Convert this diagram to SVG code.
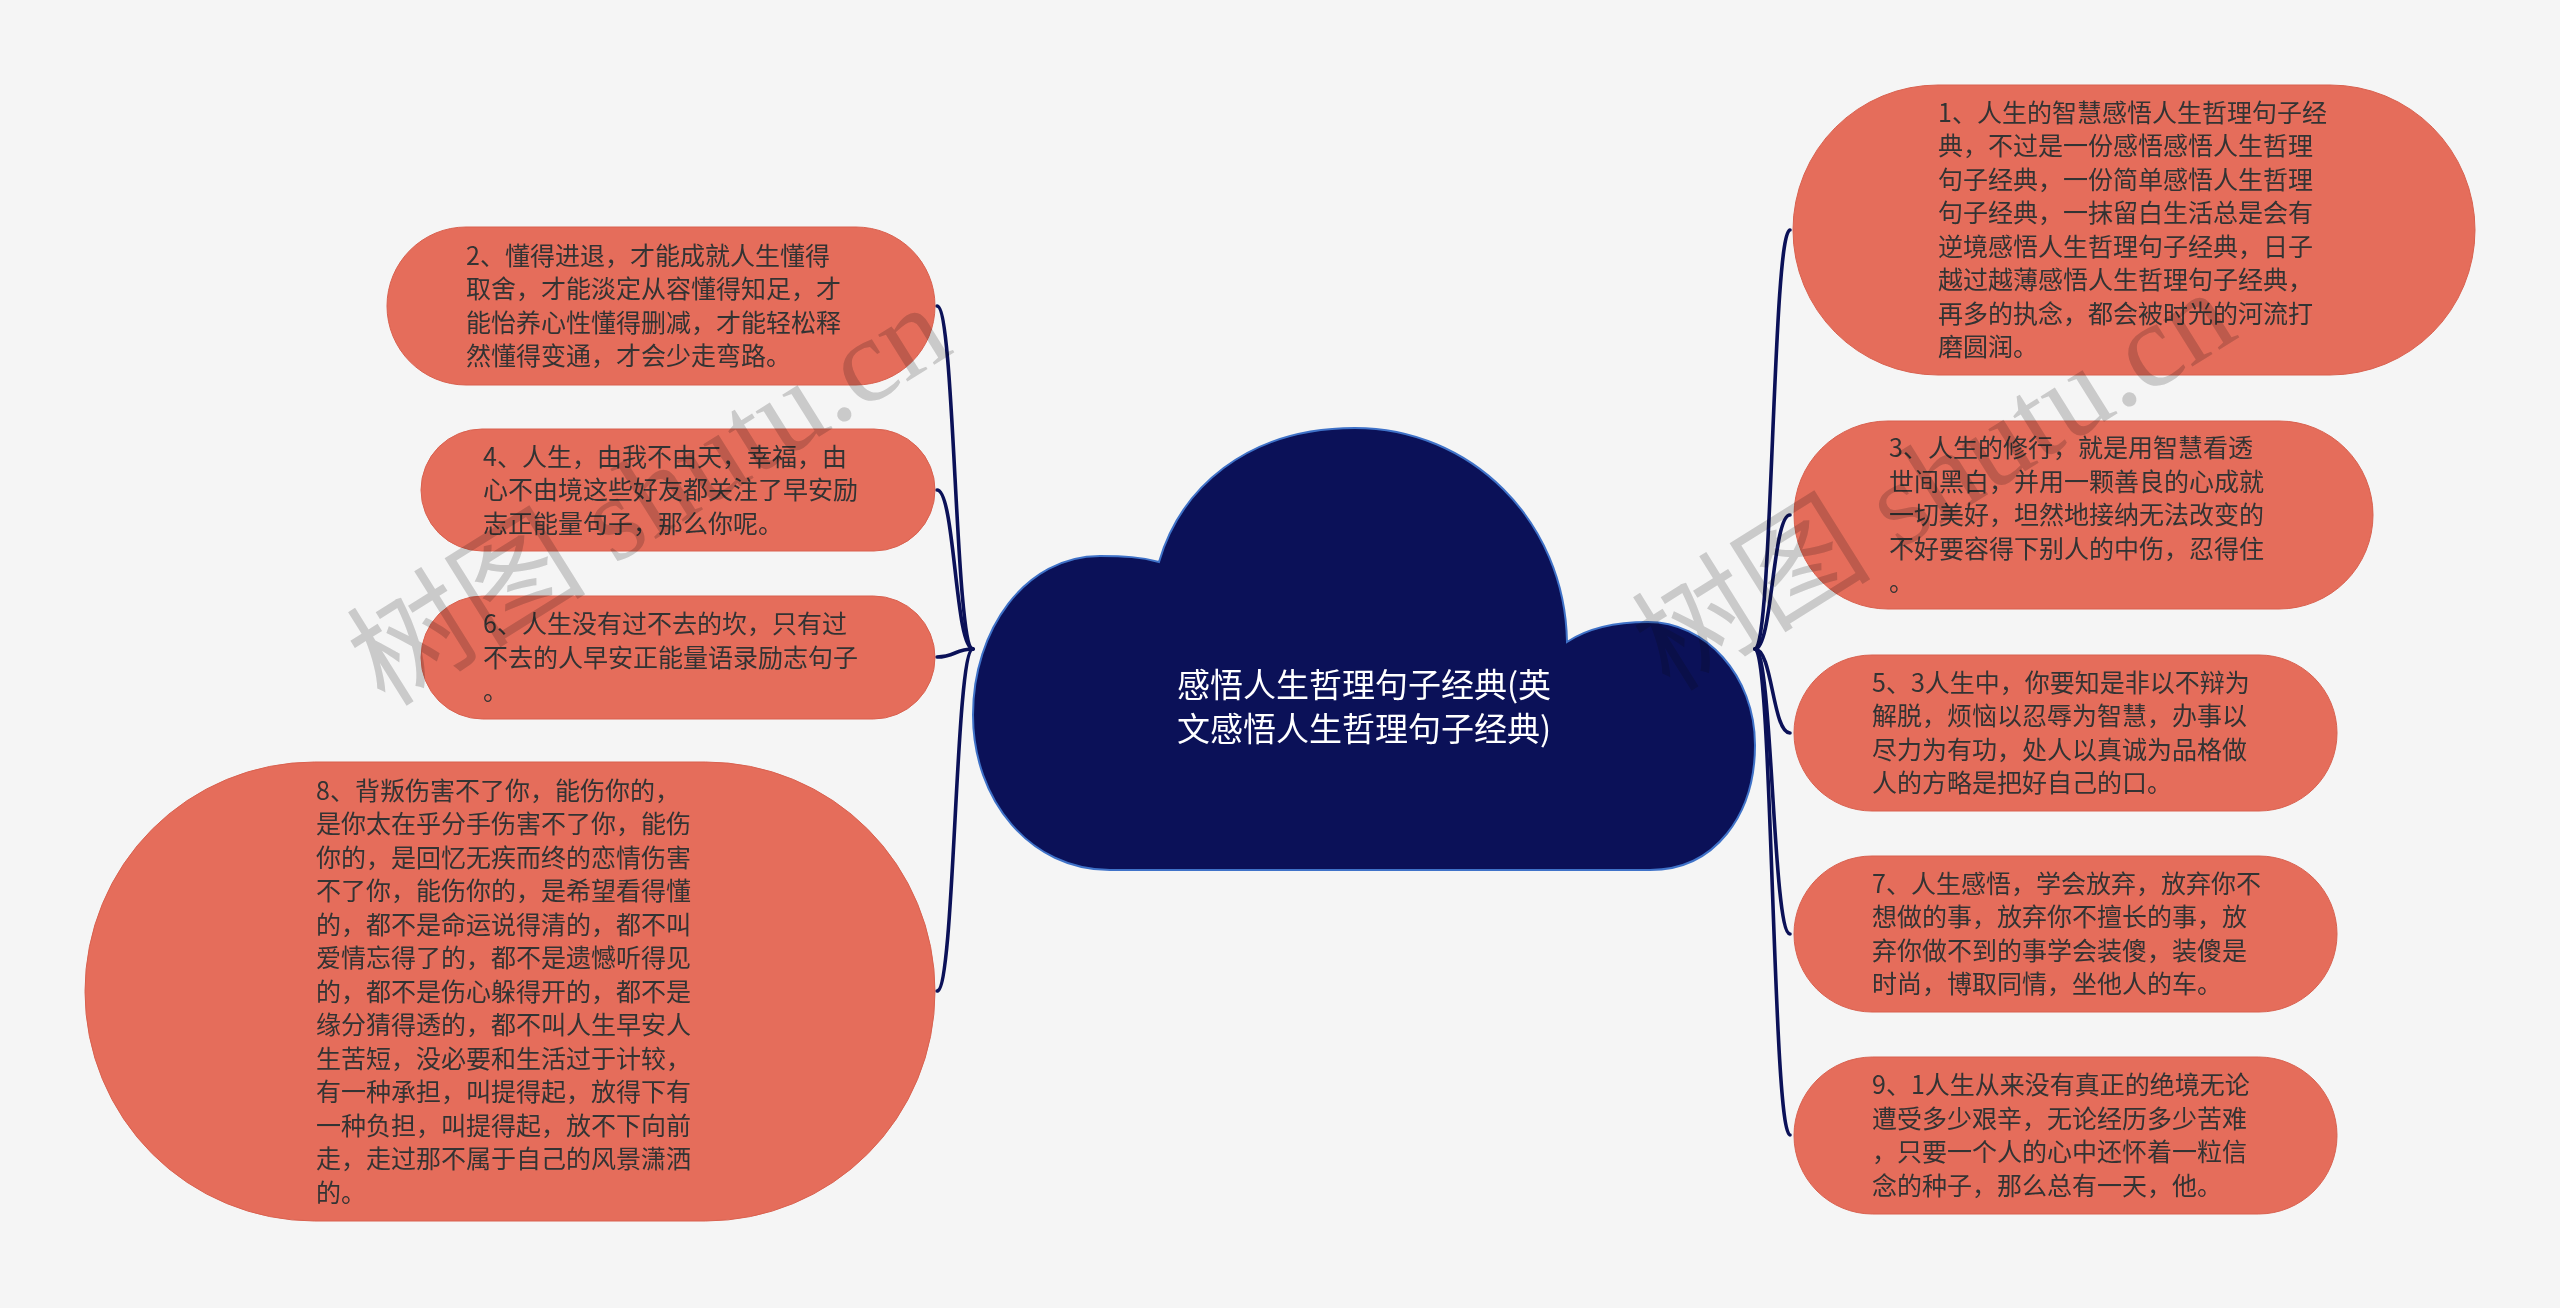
<svg xmlns="http://www.w3.org/2000/svg" width="2560" height="1308" viewBox="0 0 2560 1308">
<style>
.bg{fill:#f5f5f5}
.node{fill:#e56d5b;stroke:#d9614f;stroke-width:1}
.t{font-family:"Noto Sans CJK SC","Noto Sans",sans-serif;font-size:25px;fill:#333333}
.ct{font-family:"Noto Sans CJK SC","Noto Sans",sans-serif;font-size:33px;fill:#ffffff;text-anchor:middle}
.link{fill:none;stroke:#0b1158;stroke-width:3.6;stroke-linecap:round}
.wm{font-family:"Liberation Serif","Noto Sans CJK SC",serif;font-size:120px;fill:#d3d3d3;mix-blend-mode:multiply}
</style>
<rect class="bg" x="0" y="0" width="2560" height="1308"/>
<g id="connectors">
<path class="link" d="M1755 649 C1772.5 649 1772.5 230 1790 230"/>
<path class="link" d="M1755 649 C1772.5 649 1772.5 515 1790 515"/>
<path class="link" d="M1755 649 C1772.5 649 1772.5 733 1790 733"/>
<path class="link" d="M1755 649 C1772.5 649 1772.5 934 1790 934"/>
<path class="link" d="M1755 649 C1772.5 649 1772.5 1135 1790 1135"/>
<path class="link" d="M973 649 C955 649 955 306 937 306"/>
<path class="link" d="M973 649 C955 649 955 490 937 490"/>
<path class="link" d="M973 649 C955 649 955 657 937 657"/>
<path class="link" d="M973 649 C955 649 955 991 937 991"/>
</g>
<g id="center">
<path d="M1110 870 L1650 870 C1715 870 1755 815 1755 745 C1755 675 1705 622 1648 622 C1610 622 1585 630 1567 642 C1565 520 1470 428 1355 428 C1245 428 1180 490 1159 562 C1140 557 1125 556 1100 556 C1025 556 973 630 973 715 C973 800 1030 870 1110 870 Z" fill="#0b1158" stroke="#3f72c8" stroke-width="2"/>
<text class="ct" x="1364" y="697">感悟人生哲理句子经典(英</text>
<text class="ct" x="1364" y="741">文感悟人生哲理句子经典)</text>
</g>
<g id="node2">
<rect class="node" x="387" y="227" width="548" height="158" rx="79" ry="79"/>
<text class="t" x="466" y="264.75">2、懂得进退，才能成就人生懂得</text>
<text class="t" x="466" y="298.25">取舍，才能淡定从容懂得知足，才</text>
<text class="t" x="466" y="331.75">能怡养心性懂得删减，才能轻松释</text>
<text class="t" x="466" y="365.25">然懂得变通，才会少走弯路。</text>
</g>
<g id="node4">
<rect class="node" x="421" y="429" width="514" height="122" rx="61" ry="61"/>
<text class="t" x="483" y="465.5">4、人生，由我不由天，幸福，由</text>
<text class="t" x="483" y="499">心不由境这些好友都关注了早安励</text>
<text class="t" x="483" y="532.5">志正能量句子，那么你呢。</text>
</g>
<g id="node6">
<rect class="node" x="421" y="596" width="514" height="123" rx="61.5" ry="61.5"/>
<text class="t" x="483" y="633">6、人生没有过不去的坎，只有过</text>
<text class="t" x="483" y="666.5">不去的人早安正能量语录励志句子</text>
<text class="t" x="483" y="700">。</text>
</g>
<g id="node8">
<rect class="node" x="85" y="762" width="850" height="459" rx="229.5" ry="229.5"/>
<text class="t" x="316" y="799.5">8、背叛伤害不了你，能伤你的，</text>
<text class="t" x="316" y="833">是你太在乎分手伤害不了你，能伤</text>
<text class="t" x="316" y="866.5">你的，是回忆无疾而终的恋情伤害</text>
<text class="t" x="316" y="900">不了你，能伤你的，是希望看得懂</text>
<text class="t" x="316" y="933.5">的，都不是命运说得清的，都不叫</text>
<text class="t" x="316" y="967">爱情忘得了的，都不是遗憾听得见</text>
<text class="t" x="316" y="1000.5">的，都不是伤心躲得开的，都不是</text>
<text class="t" x="316" y="1034">缘分猜得透的，都不叫人生早安人</text>
<text class="t" x="316" y="1067.5">生苦短，没必要和生活过于计较，</text>
<text class="t" x="316" y="1101">有一种承担，叫提得起，放得下有</text>
<text class="t" x="316" y="1134.5">一种负担，叫提得起，放不下向前</text>
<text class="t" x="316" y="1168">走，走过那不属于自己的风景潇洒</text>
<text class="t" x="316" y="1201.5">的。</text>
</g>
<g id="node1">
<rect class="node" x="1793" y="85" width="682" height="290" rx="145" ry="145"/>
<text class="t" x="1938" y="121.75">1、人生的智慧感悟人生哲理句子经</text>
<text class="t" x="1938" y="155.25">典，不过是一份感悟感悟人生哲理</text>
<text class="t" x="1938" y="188.75">句子经典，一份简单感悟人生哲理</text>
<text class="t" x="1938" y="222.25">句子经典，一抹留白生活总是会有</text>
<text class="t" x="1938" y="255.75">逆境感悟人生哲理句子经典，日子</text>
<text class="t" x="1938" y="289.25">越过越薄感悟人生哲理句子经典，</text>
<text class="t" x="1938" y="322.75">再多的执念，都会被时光的河流打</text>
<text class="t" x="1938" y="356.25">磨圆润。</text>
</g>
<g id="node3">
<rect class="node" x="1794" y="421" width="579" height="188" rx="94" ry="94"/>
<text class="t" x="1889" y="457">3、人生的修行，就是用智慧看透</text>
<text class="t" x="1889" y="490.5">世间黑白，并用一颗善良的心成就</text>
<text class="t" x="1889" y="524">一切美好，坦然地接纳无法改变的</text>
<text class="t" x="1889" y="557.5">不好要容得下别人的中伤，忍得住</text>
<text class="t" x="1889" y="591">。</text>
</g>
<g id="node5">
<rect class="node" x="1794" y="655" width="543" height="156" rx="78" ry="78"/>
<text class="t" x="1872" y="691.75">5、3人生中，你要知是非以不辩为</text>
<text class="t" x="1872" y="725.25">解脱，烦恼以忍辱为智慧，办事以</text>
<text class="t" x="1872" y="758.75">尽力为有功，处人以真诚为品格做</text>
<text class="t" x="1872" y="792.25">人的方略是把好自己的口。</text>
</g>
<g id="node7">
<rect class="node" x="1794" y="856" width="543" height="156" rx="78" ry="78"/>
<text class="t" x="1872" y="892.75">7、人生感悟，学会放弃，放弃你不</text>
<text class="t" x="1872" y="926.25">想做的事，放弃你不擅长的事，放</text>
<text class="t" x="1872" y="959.75">弃你做不到的事学会装傻，装傻是</text>
<text class="t" x="1872" y="993.25">时尚，博取同情，坐他人的车。</text>
</g>
<g id="node9">
<rect class="node" x="1794" y="1057" width="543" height="157" rx="78.5" ry="78.5"/>
<text class="t" x="1872" y="1094.25">9、1人生从来没有真正的绝境无论</text>
<text class="t" x="1872" y="1127.75">遭受多少艰辛，无论经历多少苦难</text>
<text class="t" x="1872" y="1161.25">，只要一个人的心中还怀着一粒信</text>
<text class="t" x="1872" y="1194.75">念的种子，那么总有一天，他。</text>
</g>
<g id="watermark">
<text class="wm" x="385" y="708" transform="rotate(-32 385 708)">树图 shutu.cn</text>
<text class="wm" x="1670" y="693" transform="rotate(-32 1670 693)">树图 shutu.cn</text>
</g>
</svg>
